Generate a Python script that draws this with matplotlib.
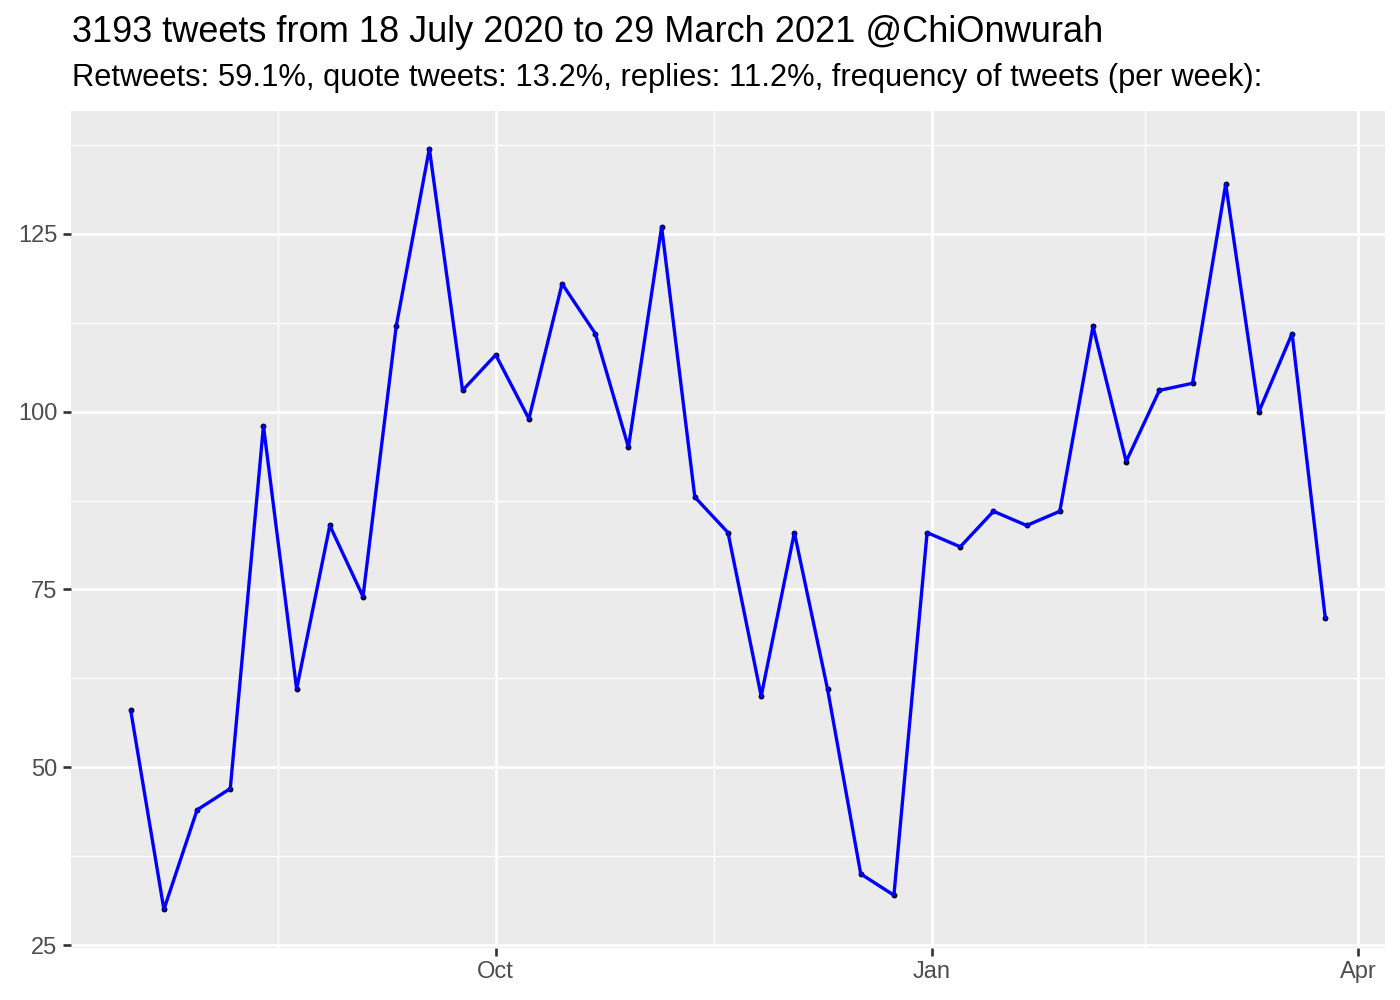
import numpy as np
import pandas as pd
import matplotlib.pyplot as plt
import matplotlib.dates as mdates

# weekly tweet counts, one point per week
week_start = "2020-07-16"
counts = [58, 30, 44, 47, 98, 61, 84, 74, 112, 137, 103, 108, 99, 118, 111, 95, 126,
          88, 83, 60, 83, 61, 35, 32, 83, 81, 86, 84, 86, 112, 93, 103, 104, 132, 100, 111, 71]
dates = pd.date_range(week_start, periods=len(counts), freq="7D")

title = "3193 tweets from 18 July 2020 to 29 March 2021 @ChiOnwurah"
subtitle = "Retweets: 59.1%, quote tweets: 13.2%, replies: 11.2%, frequency of tweets (per week):"
# Jul is only used for the minor grid (outside the panel)
x_breaks = pd.to_datetime(["2020-07-01", "2020-10-01", "2021-01-01", "2021-04-01"])
x_labels = ["Jul", "Oct", "Jan", "Apr"]
y_breaks = [25, 50, 75, 100, 125]

plt.rcParams['font.family'] = ['Liberation Sans', 'DejaVu Sans']

fig = plt.figure(figsize=(14, 10), dpi=100)
ax = fig.add_axes([71/1400, 1 - 947.5/1000, (1385-71)/1400, (947.5-110.6)/1000])
ax.set_facecolor("#EBEBEB")
for s in ax.spines.values():
    s.set_visible(False)

x = mdates.date2num(dates)
xpad = (x[-1] - x[0]) * 0.05
ax.set_xlim(x[0] - xpad, x[-1] + xpad)
ypad = (max(counts) - min(counts)) * 0.05
ax.set_ylim(min(counts) - ypad, max(counts) + ypad)

xb = mdates.date2num(x_breaks)
ax.set_xticks(xb[1:])
ax.set_xticklabels(x_labels[1:])
ax.set_xticks((xb[:-1] + xb[1:]) / 2, minor=True)
ax.set_yticks(y_breaks)
ax.set_yticks([b + 12.5 for b in y_breaks], minor=True)

ax.grid(True, which="major", color="white", linewidth=2.0)
ax.grid(True, which="minor", color="white", linewidth=1.0)
ax.set_axisbelow(True)
ax.tick_params(which="major", length=5.5, width=1.9, color="#333333",
               labelsize=17, labelcolor="#4D4D4D", pad=4.4)
ax.tick_params(which="minor", length=0)

ax.scatter(x, counts, s=18, color="black", linewidths=0, zorder=2)
ax.plot(x, counts, color="blue", linewidth=2.4, zorder=3)

fig.text(72/1400, 1 - 42/1000, title, fontsize=26, va="baseline", ha="left")
fig.text(72/1400, 1 - 86/1000, subtitle, fontsize=22.2, va="baseline", ha="left")

fig.savefig("out.png", dpi=100)
